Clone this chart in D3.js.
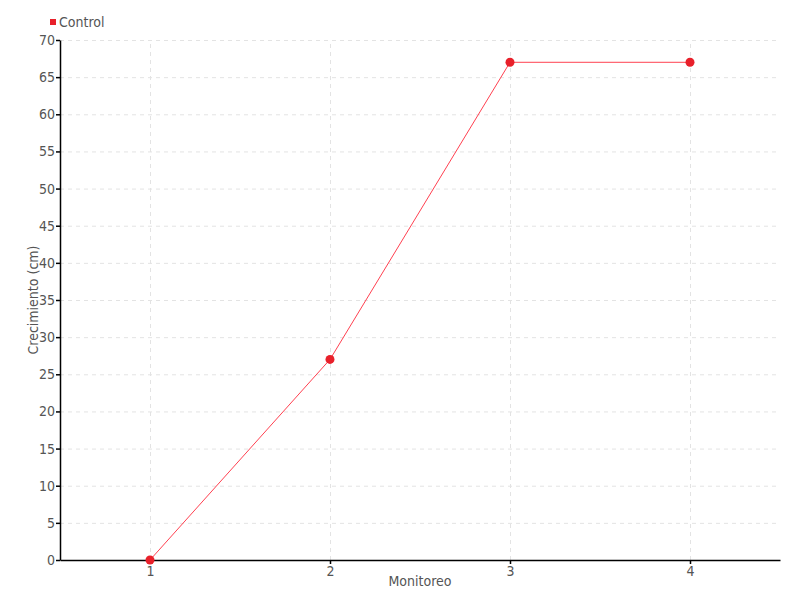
<!DOCTYPE html>
<html>
<head>
<meta charset="utf-8">
<script src="https://cdn.jsdelivr.net/npm/d3@7"></script>
<style>
  body { margin: 0; background: #fff; }
  text { font-family: "DejaVu Sans", sans-serif; font-stretch: condensed; fill: #555; }
  .grid line { stroke: #e3e3e3; stroke-dasharray: 4 4; }
  .grid path { display: none; }
</style>
</head>
<body>
<div id="chart"></div>
<script>
const seriesName = "Control";
const monitoreo = [1, 2, 3, 4];
const crecimiento = [0, 27, 67, 67];
const yTicks = [0, 5, 10, 15, 20, 25, 30, 35, 40, 45, 50, 55, 60, 65, 70];

const margin = { top: 40, right: 20, bottom: 40, left: 60 };
const width = 800 - margin.left - margin.right;
const height = 600 - margin.top - margin.bottom;

const svg = d3
  .select("#chart")
  .append("svg")
  .attr("width", 800)
  .attr("height", 600);

const g = svg
  .append("g")
  .attr("transform", `translate(${margin.left},${margin.top})`);

const x = d3.scaleLinear().domain([0.5, 4.5]).range([0, width]);
const y = d3.scaleLinear().domain([0, 70]).range([height, 0]);

const red = "#e8202a";

// grid
g.append("g")
  .attr("class", "grid")
  .call(d3.axisLeft(y).tickValues(yTicks.slice(1)).tickSize(-width).tickFormat(""));

g.append("g")
  .attr("class", "grid")
  .attr("transform", `translate(0,${height})`)
  .call(d3.axisBottom(x).tickValues(monitoreo).tickSize(height).tickFormat(""))
  .selectAll("line")
  .attr("y2", -height);

// axes
const xAxis = g
  .append("g")
  .attr("transform", `translate(0,${height})`)
  .call(d3.axisBottom(x).tickValues(monitoreo).tickSize(4).tickSizeOuter(0).tickFormat(d3.format("d")));

const yAxis = g
  .append("g")
  .call(d3.axisLeft(y).tickValues(yTicks).tickSize(4).tickSizeOuter(0));

[xAxis, yAxis].forEach((a) => {
  a.selectAll("path, line").attr("stroke", "#000").attr("stroke-width", 1.5);
  a.selectAll("text").style("font-size", "14px").attr("fill", "#555");
});
yAxis.selectAll("text").attr("x", -5);
xAxis.selectAll("text").attr("y", 6);

// axis labels
svg
  .append("text")
  .attr("x", margin.left + width / 2)
  .attr("y", 586)
  .attr("text-anchor", "middle")
  .style("font-size", "14px")
  .text("Monitoreo");

svg
  .append("text")
  .attr("transform", "rotate(-90)")
  .attr("x", -(margin.top + height / 2))
  .attr("y", 38)
  .attr("text-anchor", "middle")
  .style("font-size", "14px")
  .text("Crecimiento (cm)");

// line
const data = monitoreo.map((m, i) => ({ m, v: crecimiento[i] }));

g.append("path")
  .datum(data)
  .attr("fill", "none")
  .attr("stroke", "#ff4050")
  .attr("stroke-width", 1)
  .attr("d", d3.line().x((d) => x(d.m)).y((d) => y(d.v)));

g.selectAll(".dot")
  .data(data)
  .enter()
  .append("circle")
  .attr("class", "dot")
  .attr("cx", (d) => x(d.m))
  .attr("cy", (d) => y(d.v))
  .attr("r", 4.5)
  .attr("fill", red);

// legend
svg.append("rect")
  .attr("x", 50)
  .attr("y", 19)
  .attr("width", 6)
  .attr("height", 6)
  .attr("fill", red);

svg.append("text")
  .attr("x", 59)
  .attr("y", 27)
  .style("font-size", "14px")
  .text(seriesName);
</script>
</body>
</html>
